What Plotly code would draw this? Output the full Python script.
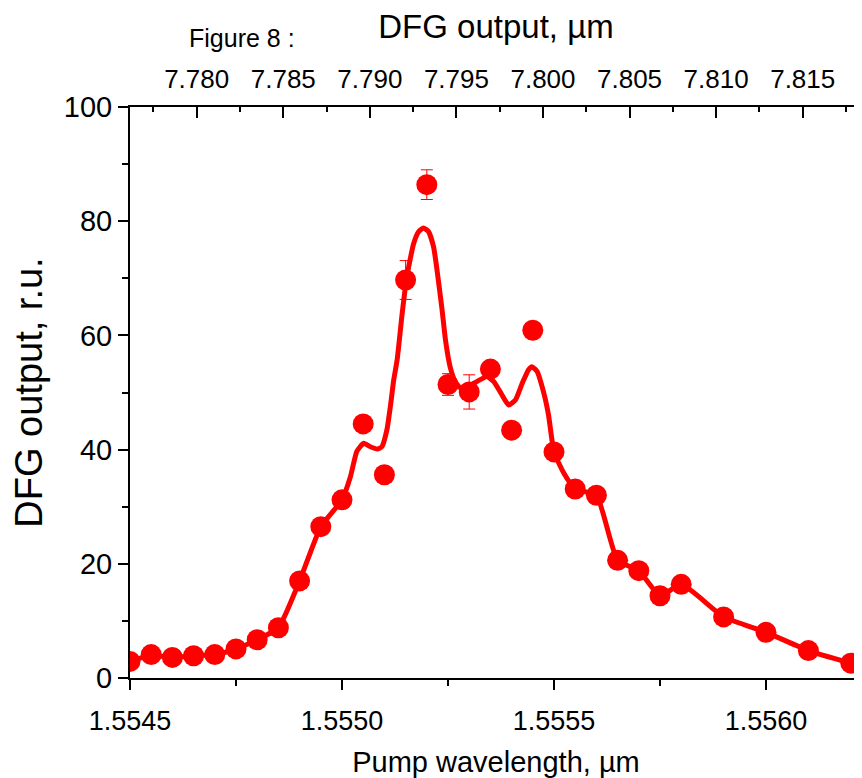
import plotly.graph_objects as go

# ---- data ----
pump_wl = [1.5545, 1.55455, 1.5546, 1.55465, 1.5547, 1.55475, 1.5548, 1.55485, 1.5549, 1.55495,
           1.5550, 1.55505, 1.5551, 1.55515, 1.5552, 1.55525, 1.5553, 1.55535, 1.5554, 1.55545,
           1.5555, 1.55555, 1.5556, 1.55565, 1.5557, 1.55575, 1.5558, 1.5559, 1.5560, 1.5561, 1.5562]
dfg_signal = [2.9, 4.1, 3.6, 3.9, 4.1, 5.1, 6.7, 8.8, 17.0, 26.5,
              31.2, 44.5, 35.6, 69.7, 86.4, 51.4, 50.1, 54.1, 43.4, 60.9,
              39.6, 33.1, 32.0, 20.6, 18.8, 14.4, 16.4, 10.7, 8.0, 4.8, 2.6]
dfg_err = [0, 0, 0, 0, 0, 0, 0, 0, 0, 0,
           0, 0, 0, 3.4, 2.6, 1.9, 3.0, 0, 0, 0,
           0, 0, 0, 0, 0, 0, 0, 0, 0, 0, 0]

fit_x = [1.5545, 1.55455, 1.5546, 1.55465, 1.5547, 1.55475, 1.5548, 1.55485, 1.5549, 1.55495, 1.5550,
         1.555020, 1.555035, 1.555051, 1.555067, 1.555083, 1.555094, 1.555106, 1.555114, 1.555122,
         1.555130, 1.555142, 1.555153, 1.555169, 1.555181, 1.555192, 1.555204, 1.555216, 1.555224,
         1.555236, 1.555244, 1.555255, 1.555267, 1.555279, 1.555295, 1.555318, 1.555342, 1.555358,
         1.555377, 1.555393, 1.555409, 1.555425, 1.555440, 1.555448, 1.555460, 1.555476, 1.555487,
         1.5555, 1.555523, 1.55555, 1.5556, 1.55565, 1.5557, 1.55575, 1.5558, 1.5559, 1.5560, 1.5561, 1.5562]
fit_y = [2.9, 4.0, 3.6, 3.9, 4.1, 5.1, 6.7, 8.8, 17.0, 26.5, 31.2,
         35.3, 39.7, 41.1, 40.5, 40.1, 40.5, 43.5, 47.5, 52.2,
         55.7, 63.9, 70.3, 76.1, 78.2, 78.8, 78.2, 75.5, 71.5,
         64.5, 59.2, 54.5, 51.9, 50.8, 51.0, 51.9, 52.8, 51.9,
         49.6, 47.8, 48.7, 51.6, 54.0, 54.5, 53.7, 49.9, 46.1,
         39.6, 35.9, 33.1, 32.0, 20.6, 18.8, 14.4, 16.4, 10.7, 8.0, 4.8, 2.6]

bottom_ticks = [1.5545, 1.5550, 1.5555, 1.5560]
top_ticks = [7.780, 7.785, 7.790, 7.795, 7.800, 7.805, 7.810, 7.815]
y_ticks = [0, 20, 40, 60, 80, 100]

FONT = "Arial, Liberation Sans, sans-serif"
RED = "#FF0000"

fig = go.Figure()

fig.add_trace(go.Scatter(
    x=fit_x, y=fit_y, mode="lines",
    line=dict(color=RED, width=5, shape="spline", smoothing=0.5),
    showlegend=False, hoverinfo="skip"))

fig.add_trace(go.Scatter(
    x=pump_wl, y=dfg_signal, mode="markers",
    marker=dict(color=RED, size=21, line=dict(width=0)),
    error_y=dict(type="data", array=dfg_err, visible=True, color=RED, thickness=1, width=6),
    showlegend=False))

# invisible trace so that the top (DFG) axis is drawn
fig.add_trace(go.Scatter(
    x=top_ticks, y=[None] * len(top_ticks), xaxis="x2", mode="markers",
    showlegend=False, hoverinfo="skip"))

fig.update_layout(
    width=854, height=770,
    margin=dict(l=122, r=0, t=99, b=100, autoexpand=False),
    plot_bgcolor="white", paper_bgcolor="white",
    font=dict(family=FONT, color="black", size=26),
    xaxis=dict(
        range=[1.5545, 1.5562264], tickvals=bottom_ticks,
        ticktext=[f"{v:.4f}" for v in bottom_ticks],
        ticks="outside", ticklen=10, tickwidth=2, tickcolor="black",
        minor=dict(dtick=0.00025, tick0=1.5545, ticks="outside", ticklen=6, tickwidth=2, tickcolor="black"),
        showline=True, linewidth=2, linecolor="black",
        showgrid=False, zeroline=False,
        tickfont=dict(size=27), ticklabelstandoff=8,
        title=dict(text="Pump wavelength, \u00b5m", font=dict(size=29), standoff=16),
        automargin=False,
    ),
    xaxis2=dict(
        overlaying="x", side="top", anchor="y",
        range=[7.776148, 7.818425], tickvals=top_ticks,
        ticktext=[f"{v:.3f}" for v in top_ticks],
        ticks="inside", ticklen=11, tickwidth=2, tickcolor="black",
        minor=dict(dtick=0.0025, tick0=7.780, ticks="inside", ticklen=5, tickwidth=2, tickcolor="black"),
        showline=True, linewidth=2, linecolor="black",
        showgrid=False, zeroline=False,
        tickfont=dict(size=26), ticklabelstandoff=7,
        title=dict(text="DFG output, \u00b5m", font=dict(size=33), standoff=18),
        automargin=False,
    ),
    yaxis=dict(
        range=[0, 100], tickvals=y_ticks,
        ticks="outside", ticklen=10, tickwidth=2, tickcolor="black",
        minor=dict(dtick=10, tick0=0, ticks="outside", ticklen=6, tickwidth=2, tickcolor="black"),
        showline=True, linewidth=2, linecolor="black",
        showgrid=False, zeroline=False,
        tickfont=dict(size=29),
        title=dict(text="DFG output, r.u.", font=dict(size=38), standoff=12),
        automargin=False,
    ),
    annotations=[dict(
        text="Figure 8 :", xref="paper", yref="paper",
        x=0.153, y=1.121, xanchor="center", yanchor="middle",
        showarrow=False, font=dict(size=25, family=FONT, color="black"))],
)

fig.write_html("out.html")
